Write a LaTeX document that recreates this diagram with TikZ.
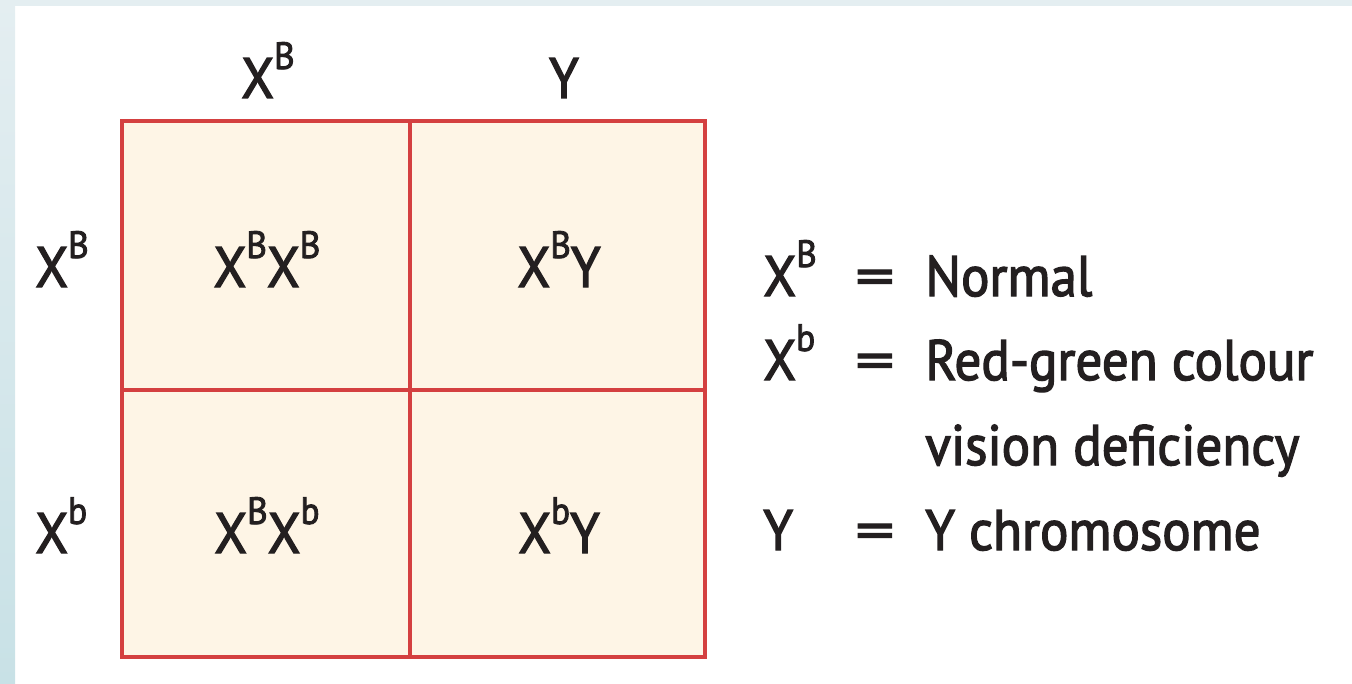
\documentclass[tikz,border=0pt]{standalone}
\usepackage{fontspec}
\setmainfont[FakeStretch=0.93,FakeBold=2.3]{PT Sans}
\definecolor{gridred}{HTML}{D44040}
\definecolor{cellfill}{HTML}{FEF5E6}
\definecolor{stripA}{HTML}{E4EEF1}
\definecolor{stripB}{HTML}{C8E1E6}
\definecolor{ink}{HTML}{231F20}
\newcommand{\gsup}[1]{\raisebox{14.5pt}{\fontsize{19}{19}\selectfont #1}}
\newcommand{\eqsign}{\scalebox{1.45}[1]{=}}
\begin{document}
\begin{tikzpicture}[x=0.5pt,y=-0.5pt,
  lab/.style={font=\fontsize{28.5}{30}\selectfont, inner sep=0pt, text=ink},
  cell/.style={draw=gridred, fill=cellfill, line width=2pt}]
\useasboundingbox (0,0) rectangle (1352,684);
\fill[stripA] (0,0) rectangle (1352,6);
\shade[top color=stripA, bottom color=stripB] (0,0) rectangle (15,684);
% grid
\path[cell] (122,121) rectangle (410,390);
\path[cell] (410,121) rectangle (705,390);
\path[cell] (122,390) rectangle (410,657);
\path[cell] (410,390) rectangle (705,657);
% headers
\node[lab, anchor=base] (h1) at (268,98) {X\gsup{B}};
\node[lab, anchor=base] (h2) at (564,98) {Y};
\node[lab, anchor=base west] (r1) at (35,287) {X\gsup{B}};
\node[lab, anchor=base west] (r2) at (35,553) {X\gsup{b}};
% cells
\node[lab, anchor=base] (c11) at (267,287) {X\gsup{B}X\gsup{B}};
\node[lab, anchor=base] (c12) at (559,287) {X\gsup{B}Y};
\node[lab, anchor=base] (c21) at (267,553) {X\gsup{B}X\gsup{b}};
\node[lab, anchor=base] (c22) at (559,553) {X\gsup{b}Y};
% legend
\node[lab, anchor=base west] (k1) at (763,296) {X\gsup{B}};
\node[lab, anchor=base] (e1) at (875,296) {\eqsign};
\node[lab, anchor=base west] (t1) at (925,296) {Normal};
\node[lab, anchor=base west] (k2) at (763,380) {X\gsup{b}};
\node[lab, anchor=base] (e2) at (875,380) {\eqsign};
\node[lab, anchor=base west] (t2) at (925,380) {Red-green colour};
\node[lab, anchor=base west] (t3) at (925,465) {vision deficiency};
\node[lab, anchor=base west] (k3) at (763,550) {Y};
\node[lab, anchor=base] (e3) at (875,550) {\eqsign};
\node[lab, anchor=base west] (t4) at (925,550) {Y chromosome};
\end{tikzpicture}
\end{document}
